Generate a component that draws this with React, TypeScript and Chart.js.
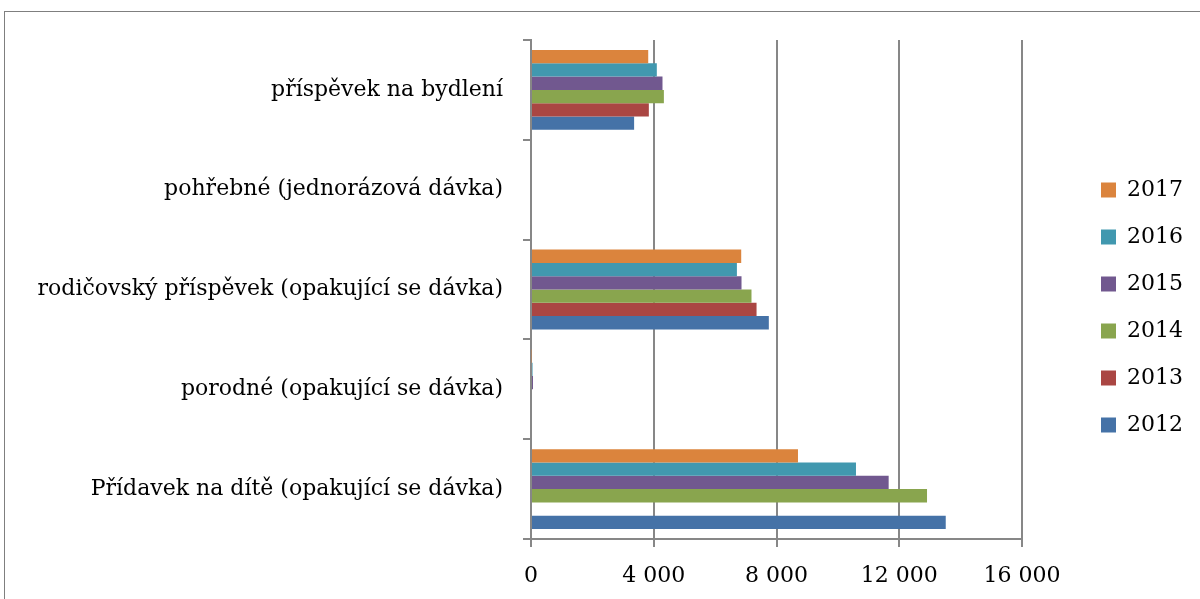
import React, { useEffect, useRef } from 'react';
import { Chart, registerables } from 'chart.js';

Chart.register(...registerables);

// Categories, top to bottom as drawn
const categories = [
  'příspěvek na bydlení',
  'pohřebné (jednorázová dávka)',
  'rodičovský příspěvek (opakující se dávka)',
  'porodné (opakující se dávka)',
  'Přídavek na dítě (opakující se dávka)',
];

// Series (legend order, top to bottom inside each group)
const years = ['2017', '2016', '2015', '2014', '2013', '2012'];
const values2017 = [3820, 0, 6850, 20, 8700];
const values2016 = [4100, 0, 6710, 50, 10590];
const values2015 = [4285, 0, 6860, 65, 11655];
const values2014 = [4330, 0, 7185, 0, 12905];
const values2013 = [3840, 0, 7350, 0, null];
const values2012 = [3360, 0, 7750, 0, 13515];
const seriesValues = [values2017, values2016, values2015, values2014, values2013, values2012];
const seriesColors = ['#DB843D', '#4198AF', '#71588F', '#89A54E', '#AA4643', '#4572A7'];

// Value axis
const xMin = 0;
const xMax = 16000;
const xStep = 4000;
const xTickLabels = ['0', '4 000', '8 000', '12 000', '16 000'];

const FONT = "'DejaVu Serif', serif";
const FONT_SIZE = 22;
const AXIS_GRAY = '#878787';

export default function App() {
  const ref = useRef<HTMLCanvasElement>(null);

  useEffect(() => {
    const canvas = ref.current;
    if (!canvas) return;

    const mctx = document.createElement('canvas').getContext('2d') as CanvasRenderingContext2D;
    mctx.font = `${FONT_SIZE}px ${FONT}`;
    const tw = Math.max(...years.map((y) => mctx.measureText(y).width));
    const legendPad = 25;
    const boxSize = 15;
    const legendLeft = 1076;
    const legendWidth = legendPad + boxSize + FONT_SIZE / 2 + tw + 10;
    const padRight = Math.max(0, 1200 - legendLeft - legendWidth);

    const chart = new Chart(canvas, {
      type: 'bar',
      data: {
        labels: categories,
        datasets: years.map((y, i) => ({
          label: y,
          data: seriesValues[i],
          backgroundColor: seriesColors[i],
          borderWidth: 0,
          yAxisID: 'y',
          xAxisID: 'x',
          categoryPercentage: 0.8,
          barPercentage: 1.0,
        })),
      },
      options: {
        indexAxis: 'y',
        responsive: false,
        animation: false,
        events: [],
        layout: { padding: { left: 0, top: 16, right: padRight, bottom: 0 } },
        plugins: {
          legend: {
            display: true,
            position: 'right',
            align: 'center',
            labels: {
              boxWidth: boxSize,
              boxHeight: boxSize,
              padding: legendPad,
              color: '#000',
              font: { family: FONT, size: FONT_SIZE },
            },
          },
          tooltip: { enabled: false },
          title: { display: false },
        },
        scales: {
          x: {
            type: 'linear',
            position: 'bottom',
            min: xMin,
            max: xMax,
            grid: {
              color: AXIS_GRAY,
              lineWidth: 2,
              drawTicks: true,
              tickLength: 8,
            },
            border: { display: true, color: AXIS_GRAY, width: 2 },
            ticks: {
              stepSize: xStep,
              padding: 16,
              color: '#000',
              maxRotation: 0,
              autoSkip: false,
              font: { family: FONT, size: FONT_SIZE },
              callback: (_v: any, i: number) => xTickLabels[i] ?? '',
            },
            afterFit: (s: any) => {
              s.height = 60;
            },
          },
          xTop: {
            type: 'linear',
            position: 'top',
            display: true,
            grid: { display: false, drawTicks: false },
            ticks: { display: false },
            border: { display: false },
            afterFit: (s: any) => {
              s.height = 24;
            },
          },
          y: {
            type: 'category',
            position: 'left',
            z: 1,
            grid: {
              offset: true,
              drawOnChartArea: false,
              drawTicks: true,
              tickLength: 8,
              color: AXIS_GRAY,
              lineWidth: 2,
            },
            border: { display: true, color: AXIS_GRAY, width: 2 },
            ticks: {
              padding: 20,
              color: '#000',
              autoSkip: false,
              font: { family: FONT, size: FONT_SIZE },
            },
            afterFit: (s: any) => {
              s.width = 531;
            },
          },
          yR: {
            type: 'linear',
            position: 'right',
            display: true,
            grid: { display: false, drawTicks: false },
            ticks: { display: false },
            border: { display: false },
            afterFit: (s: any) => {
              s.width = 54;
            },
          },
        },
      },
    } as any);

    return () => chart.destroy();
  }, []);

  return (
    <div
      style={{
        position: 'fixed',
        left: 0,
        top: 0,
        width: 1200,
        height: 599,
        background: '#fff',
        overflow: 'hidden',
      }}
    >
      <div
        style={{
          position: 'absolute',
          left: 4,
          top: 11,
          width: 1400,
          height: 800,
          border: '1px solid #7f7f7f',
        }}
      />
      <canvas
        ref={ref}
        width={1200}
        height={599}
        style={{ position: 'absolute', left: 0, top: 0, width: 1200, height: 599 }}
      />
    </div>
  );
}
